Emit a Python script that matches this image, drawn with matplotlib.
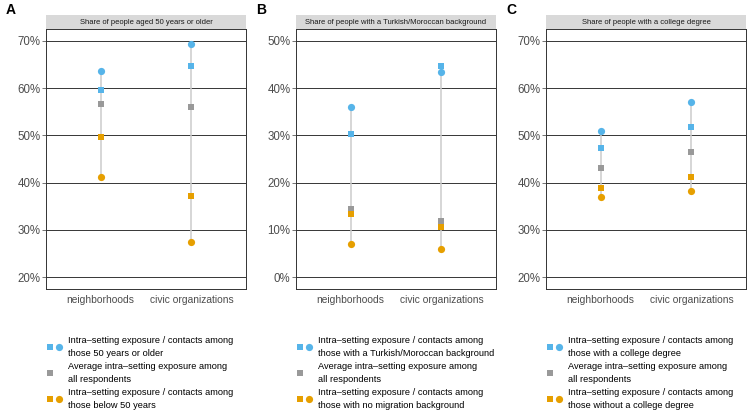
import numpy as np
import matplotlib
matplotlib.use("Agg")
import matplotlib.pyplot as plt
from matplotlib.lines import Line2D
from matplotlib.legend_handler import HandlerTuple

plt.rcParams['font.family'] = ['Liberation Sans', 'DejaVu Sans']

# data (percent)
settings = ['neighborhoods', 'civic organizations']
panels = ['A', 'B', 'C']
strip_titles = ['Share of people aged 50 years or older',
                'Share of people with a Turkish/Moroccan background',
                'Share of people with a college degree']
# in-group contacts (circles) and exposure (squares)
high_contacts = [[63.7, 69.4], [36.1, 43.3], [50.9, 57.1]]
high_exposure = [[59.6, 64.6], [30.2, 44.6], [47.4, 51.7]]
avg_exposure = [[56.7, 56.0], [14.4, 11.8], [43.2, 46.5]]
low_exposure = [[49.7, 37.1], [13.3, 10.6], [38.9, 41.2]]
low_contacts = [[41.1, 27.4], [7.0, 5.9], [37.0, 38.2]]
y_ticks = [[20, 30, 40, 50, 60, 70], [0, 10, 20, 30, 40, 50], [20, 30, 40, 50, 60, 70]]
high_labels = ['Intra–setting exposure / contacts among\nthose 50 years or older',
               'Intra–setting exposure / contacts among\nthose with a Turkish/Moroccan background',
               'Intra–setting exposure / contacts among\nthose with a college degree']
avg_label = 'Average intra–setting exposure among\nall respondents'
low_labels = ['Intra–setting exposure / contacts among\nthose below 50 years',
              'Intra–setting exposure / contacts among\nthose with no migration background',
              'Intra–setting exposure / contacts among\nthose without a college degree']

BLUE = '#56B4E9'
ORANGE = '#E69F00'
GREY = '#999999'

W, H = 750, 416
fig = plt.figure(figsize=(W / 100, H / 100), dpi=100)

lefts = [46, 296, 546]
for i in range(3):
    x0 = lefts[i]
    ax = fig.add_axes([x0 / W, 1 - 289 / H, 200 / W, 260 / H])
    xs = np.arange(len(settings)) + 1
    allv = np.array([high_contacts[i], high_exposure[i], avg_exposure[i],
                     low_exposure[i], low_contacts[i]])
    ax.vlines(xs, allv.min(axis=0), allv.max(axis=0), color='#cccccc', lw=1.1, zorder=2)
    ms_c, ms_s = 5.2, 4.5
    ax.plot(xs, high_contacts[i], 'o', color=BLUE, ms=ms_c, mew=0, zorder=3)
    ax.plot(xs, high_exposure[i], 's', color=BLUE, ms=ms_s, mew=0, zorder=3)
    ax.plot(xs, avg_exposure[i], 's', color=GREY, ms=ms_s, mew=0, zorder=3)
    ax.plot(xs, low_exposure[i], 's', color=ORANGE, ms=ms_s, mew=0, zorder=3)
    ax.plot(xs, low_contacts[i], 'o', color=ORANGE, ms=ms_c, mew=0, zorder=3)

    t = y_ticks[i]
    pad = (t[-1] - t[0]) * 0.05
    ax.set_ylim(t[0] - pad, t[-1] + pad)
    ax.set_yticks(t)
    ax.set_yticklabels([f'{v}%' for v in t])
    for v in t:
        ax.axhline(v, color='black', lw=0.55, zorder=1)
    ax.set_xlim(0.4, 2.6)
    ax.set_xticks(xs)
    ax.set_xticklabels(settings)
    ax.tick_params(axis='x', length=0, pad=4, labelsize=7.4, colors='#4d4d4d')
    ax.tick_params(axis='y', length=3, width=0.55, pad=1, labelsize=8.3, colors='#4d4d4d')
    for s in ax.spines.values():
        s.set_linewidth(0.7)
        s.set_color('#333333')

    # strip
    sax = fig.add_axes([x0 / W, 1 - 29 / H, 200 / W, 14 / H])
    sax.set_facecolor('#d9d9d9')
    sax.set_xticks([])
    sax.set_yticks([])
    for s in sax.spines.values():
        s.set_visible(False)
    sax.text(0.5, 0.5, strip_titles[i], ha='center', va='center', fontsize=5.5,
             color='#1a1a1a', transform=sax.transAxes)

    fig.text((x0 - 40) / W, 1 - 10 / H, panels[i], fontsize=10, fontweight='bold',
             ha='left', va='center')

    # legend
    blank = Line2D([], [], ls='', marker='')
    h_high = (Line2D([], [], marker='s', ls='', color=BLUE, ms=ms_s, mew=0),
              Line2D([], [], marker='o', ls='', color=BLUE, ms=ms_c, mew=0))
    h_avg = (Line2D([], [], marker='s', ls='', color=GREY, ms=ms_s, mew=0), blank)
    h_low = (Line2D([], [], marker='s', ls='', color=ORANGE, ms=ms_s, mew=0),
             Line2D([], [], marker='o', ls='', color=ORANGE, ms=ms_c, mew=0))
    leg = fig.legend([h_high, h_avg, h_low], [high_labels[i], avg_label, low_labels[i]],
                     handler_map={tuple: HandlerTuple(ndivide=None, pad=0.1)},
                     loc='upper left', bbox_to_anchor=(x0 / W, 1 - 336 / H),
                     frameon=False, fontsize=6.7, labelspacing=0.48, handlelength=1.8,
                     handletextpad=0.55, borderaxespad=0, borderpad=0)
    for txt in leg.get_texts():
        txt.set_linespacing(1.53)

fig.savefig('out.png', dpi=100)
